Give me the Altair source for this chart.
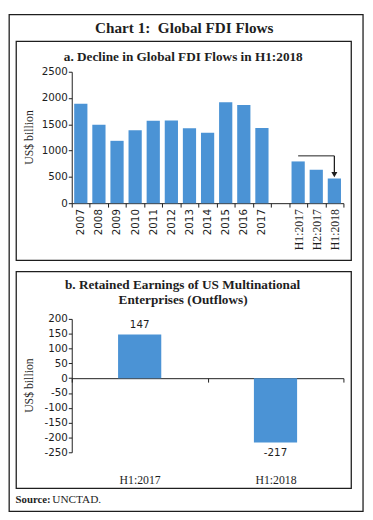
import altair as alt
import pandas as pd

# ---------------- data ----------------
years = ["2007", "2008", "2009", "2010", "2011", "2012", "2013",
         "2014", "2015", "2016", "2017"]
year_values = [1891, 1490, 1186, 1388, 1567, 1574, 1425, 1338, 1921, 1868, 1430]
halves = ["H1:2017", "H2:2017", "H1:2018"]
half_values = [794, 636, 470]
gap = " "
x_domain = years + [gap] + halves
y_ticks_a = [0, 500, 1000, 1500, 2000, 2500]

# decline annotation (data units)
arrow_from = "H1:2017"
arrow_to = "H1:2018"
arrow_level = 900
arrow_stem_end = 575
arrow_head = 545

retained_periods = ["H1:2017", "H1:2018"]
retained_values = [147, -217]
y_ticks_b = [200, 150, 100, 50, 0, -50, -100, -150, -200, -250]

# ---------------- style ----------------
BLUE = "#4b93d5"
INK = "#1e1e1e"
SERIF = "Liberation Serif"
SANS = "DejaVu Sans"
W = 277
HA = 134
HB = 136

one = pd.DataFrame({"k": [0]})


def box(x, x2, y, y2, sw=1.3):
    return alt.Chart(one).mark_rect(
        fillOpacity=0, stroke=INK, strokeWidth=sw
    ).encode(x=alt.value(x), x2=alt.value(x2), y=alt.value(y), y2=alt.value(y2))


def label(text, x, y, size, bold=False, font=SERIF, align="center",
          angle=0, baseline="alphabetic"):
    return alt.Chart(one).mark_text(
        text=text, font=font, fontSize=size,
        fontWeight="bold" if bold else "normal", color=INK,
        align=align, angle=angle, baseline=baseline
    ).encode(x=alt.value(x), y=alt.value(y))


# ---------------- panel a ----------------
df_a = pd.DataFrame({"cat": years + halves, "value": year_values + half_values})

x_a = alt.X(
    "cat:N",
    sort=x_domain,
    scale=alt.Scale(domain=x_domain, paddingInner=0, paddingOuter=0),
    axis=alt.Axis(
        title=None, labelAngle=-90, tickBand="extent", tickSize=4,
        labelPadding=1.5, domainColor=INK, tickColor=INK, labelColor=INK,
        labelOverlap=False,
        labelFont=alt.condition("indexof(datum.label, 'H') === 0",
                                alt.value(SERIF), alt.value(SANS)),
        labelFontSize=alt.condition("indexof(datum.label, 'H') === 0",
                                    alt.value(12), alt.value(10.5)),
    ),
)
y_a = alt.Y(
    "value:Q",
    scale=alt.Scale(domain=[0, 2500], nice=False, zero=True),
    axis=alt.Axis(title=None, values=y_ticks_a, grid=False, tickSize=3.5,
                  labelPadding=1, domainColor=INK, tickColor=INK,
                  labelColor=INK, labelFont=SANS, labelFontSize=10.5,
                  labelOverlap=False, labelExpr="'' + datum.value"),
)

bars_a = alt.Chart(df_a).mark_bar(
    color=BLUE, width=alt.RelativeBandSize(0.73)
).encode(x=x_a, y=y_a)

ann_h = pd.DataFrame({"cat": [arrow_from], "cat_end": [arrow_to],
                      "value": [arrow_level]})
ann_v = pd.DataFrame({"cat": [arrow_to], "value": [arrow_level],
                      "value_end": [arrow_stem_end]})
ann_p = pd.DataFrame({"cat": [arrow_to], "value": [arrow_head]})

hline = alt.Chart(ann_h).mark_rule(color=INK, strokeWidth=1).encode(
    x=x_a, x2="cat_end:N", y=y_a)
vline = alt.Chart(ann_v).mark_rule(color=INK, strokeWidth=1.3).encode(
    x=x_a, y=y_a, y2="value_end:Q")
head = alt.Chart(ann_p).mark_point(
    shape="triangle-down", filled=True, size=38, color=INK, opacity=1
).encode(x=x_a, y=y_a)

panel_a = alt.layer(
    box(-63.8, 297, -58.2, 448.3, 1.3),
    box(-56.6, 285, -31, 192.3, 1.3),
    label("Chart 1:\u00a0 Global FDI Flows", 114.7, -39.7, 15.5, bold=True),
    label("a. Decline in Global FDI Flows in H1:2018", 113.7, -11.2, 13.5, bold=True),
    label("US$ billion", -43.3, HA / 2, 12, angle=270, baseline="middle"),
    bars_a, hline, vline, head,
).properties(width=W, height=HA)

# ---------------- panel b ----------------
df_b = pd.DataFrame({"period": retained_periods, "value": retained_values})

zero_px = HB * 200 / 450
x_b = alt.X(
    "period:N",
    sort=retained_periods,
    scale=alt.Scale(paddingInner=0, paddingOuter=0),
    axis=alt.Axis(title=None, labelAngle=0, tickBand="extent", tickSize=4,
                  offset=-(HB - zero_px), labelPadding=94,
                  domainColor=INK, tickColor=INK, labelColor=INK,
                  labelFont=SERIF, labelFontSize=12),
)
y_b = alt.Y(
    "value:Q",
    scale=alt.Scale(domain=[-250, 200], nice=False, zero=False),
    axis=alt.Axis(title=None, values=y_ticks_b, grid=False, tickSize=3.5,
                  labelPadding=1, domainColor=INK, tickColor=INK,
                  labelColor=INK, labelFont=SANS, labelFontSize=10.5,
                  labelOverlap=False, labelExpr="'' + datum.value"),
)

base_b = alt.Chart(df_b).transform_calculate(lab="'' + datum.value")
bars_b = base_b.mark_bar(color=BLUE, width=alt.RelativeBandSize(0.318)).encode(
    x=x_b, y=y_b)
lab_pos = base_b.transform_filter("datum.value >= 0").mark_text(
    font=SANS, fontSize=10.5, color=INK, baseline="bottom", dy=-5
).encode(x=x_b, y=y_b, text="lab:N")
lab_neg = base_b.transform_filter("datum.value < 0").mark_text(
    font=SANS, fontSize=10.5, color=INK, baseline="top", dy=6
).encode(x=x_b, y=y_b, text="lab:N")

panel_b = alt.layer(
    box(-56.6, 285, -48.3, 172.7, 1.3),
    label("b. Retained Earnings of US Multinational", 113, -30.7, 13.5, bold=True),
    label("Enterprises (Outflows)", 113.5, -15, 13.5, bold=True),
    label("US$ billion", -43.3, HB / 2, 12, angle=270, baseline="middle"),
    label("Source:", -57.3, 187.5, 11, bold=True, align="left"),
    label("UNCTAD.", -19.8, 187.5, 11.5, align="left"),
    bars_b, lab_pos, lab_neg,
).properties(width=W, height=HB)

chart = alt.vconcat(
    panel_a, panel_b, spacing=118, bounds="flush"
).resolve_scale(x="independent", y="independent").properties(
    padding=0, background="white"
).configure_view(stroke="transparent")

chart.save("out.html", embed_options={"renderer": "svg", "actions": False})
